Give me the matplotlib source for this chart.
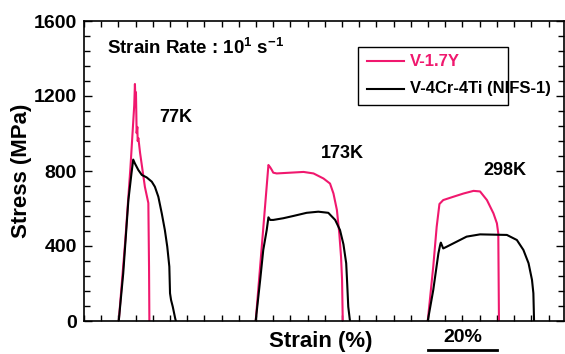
import matplotlib
matplotlib.use("Agg")
import matplotlib.pyplot as plt
import numpy as np

plt.rcParams['font.family'] = ['Liberation Sans', 'DejaVu Sans']
plt.rcParams['font.weight'] = 'bold'
plt.rcParams['mathtext.fontset'] = 'custom'
plt.rcParams['mathtext.rm'] = 'Liberation Sans:bold'
plt.rcParams['mathtext.bf'] = 'Liberation Sans:bold'

PINK = '#f0186e'

# Strain position along axis (%), stress (MPa)
v17y_77_x = [10.1, 12.0, 13.5, 14.3, 14.6, 14.8, 15.0, 15.1, 15.3, 15.5, 15.6, 15.8, 16.3, 17.7, 18.7, 18.9, 19.0]
v17y_77_y = [0, 430, 820, 1060, 1150, 1264, 1150, 1220, 1002, 1035, 960, 976, 896, 715, 629, 288, 0]
nifs_77_x = [10.1, 11.4, 12.9, 13.8, 14.3, 14.8, 15.8, 16.8, 18.2, 19.7, 20.6, 21.6, 22.6, 23.5, 24.2, 24.8, 25.0, 25.3, 25.8, 26.5, 26.7]
nifs_77_y = [0, 254, 645, 788, 861, 840, 805, 779, 766, 743, 716, 663, 574, 485, 396, 290, 148, 112, 76, 14, 0]

v17y_173_x = [49.9, 53.6, 54.1, 54.6, 55.0, 56.0, 59.9, 63.8, 66.7, 69.6, 71.5, 72.5, 73.5, 74.2, 74.7, 75.0, 75.2]
v17y_173_y = [0, 832, 820, 805, 791, 787, 791, 795, 787, 760, 733, 680, 592, 467, 343, 219, 0]
nifs_173_x = [49.9, 51.2, 52.1, 53.1, 53.6, 54.1, 55.0, 57.9, 60.8, 64.7, 68.1, 71.0, 73.0, 74.4, 75.4, 76.2, 76.5, 76.8, 77.3]
nifs_173_y = [0, 219, 379, 485, 553, 539, 539, 548, 560, 577, 583, 577, 539, 485, 409, 308, 196, 76, 0]

v17y_298_x = [99.9, 101.5, 102.5, 103.3, 104.4, 107.4, 110.3, 113.2, 115.1, 117.1, 119.0, 120.0, 120.4, 120.6]
v17y_298_y = [0, 290, 503, 624, 645, 663, 680, 694, 691, 645, 574, 521, 467, 0]
nifs_298_x = [99.9, 101.5, 103.0, 103.5, 103.7, 104.4, 105.4, 108.3, 111.2, 115.1, 122.9, 125.8, 127.7, 129.2, 130.2, 130.6, 130.8]
nifs_298_y = [0, 165, 361, 405, 418, 387, 396, 423, 450, 462, 459, 432, 379, 308, 219, 148, 0]

temps = ['77K', '173K', '298K']
temp_label_pos = [(26.7, 1083), (75.1, 896), (122.4, 805)]
yticks = [0, 400, 800, 1200, 1600]

fig = plt.figure(figsize=(5.65, 3.54), dpi=100)
ax = fig.add_axes([84/565, 33/354, 480/565, 300/354])

for xs, ys in [(v17y_77_x, v17y_77_y), (v17y_173_x, v17y_173_y), (v17y_298_x, v17y_298_y)]:
    ax.plot(xs, ys, color=PINK, lw=1.5)
for xs, ys in [(nifs_77_x, nifs_77_y), (nifs_173_x, nifs_173_y), (nifs_298_x, nifs_298_y)]:
    ax.plot(xs, ys, color='black', lw=1.5)

ax.set_xlim(0, 139.5)
ax.set_ylim(0, 1600)
ax.set_yticks(yticks)
ax.set_yticklabels([str(t) for t in yticks], fontsize=14, fontweight='bold')
ax.set_yticks(np.arange(0, 1601, 80), minor=True)
ax.set_xticks(np.arange(0, 140, 5))
ax.set_xticklabels([])
ax.tick_params(axis='both', which='both', direction='in', top=True, right=True)
ax.tick_params(axis='y', which='major', length=6, width=1, pad=5)
ax.tick_params(axis='y', which='minor', length=4, width=1)
ax.tick_params(axis='x', which='major', length=4, width=1)
for s in ax.spines.values():
    s.set_linewidth(1.2)

fig.text(22/565, 1 - 171/354, 'Stress (MPa)', fontsize=16, fontweight='bold',
         rotation=90, ha='center', va='center')

for t, (tx, ty) in zip(temps, temp_label_pos):
    ax.text(tx, ty, t, fontsize=13, fontweight='bold', ha='center', va='center')

ax.text(23/480, 1460/1600, 'Strain Rate : 10$^{\\mathbf{1}}$ s$^{\\mathbf{-1}}$', transform=ax.transAxes,
        fontsize=13.5, fontweight='bold', ha='left', va='center')

# legend box drawn manually
def px2ax(px, py):
    return ((px - 84) / 480, (321 - py) / 300)

x0, y0 = px2ax(358, 105)
x1, y1 = px2ax(508, 47)
ax.add_patch(plt.Rectangle((x0, y0), x1 - x0, y1 - y0, transform=ax.transAxes,
                           fill=False, edgecolor='black', lw=1.0))
lx0, ly0 = px2ax(367, 61)
lx1, _ = px2ax(404, 61)
ax.plot([lx0, lx1], [ly0, ly0], color=PINK, lw=1.5, transform=ax.transAxes)
tx, _ = px2ax(410, 61)
ax.text(tx, ly0, 'V-1.7Y', color=PINK, fontsize=12, fontweight='bold', va='center', ha='left',
        transform=ax.transAxes)
_, ly1 = px2ax(367, 89)
ax.plot([lx0, lx1], [ly1, ly1], color='black', lw=1.5, transform=ax.transAxes)
ax.text(tx, ly1, 'V-4Cr-4Ti (NIFS-1)', color='black', fontsize=12, fontweight='bold', va='center',
        ha='left', transform=ax.transAxes, clip_on=False)

fig.text(321/565, 1 - 342/354, 'Strain (%)', fontsize=16, fontweight='bold', ha='center', va='center')
fig.text(463/565, 1 - 337/354, '20%', fontsize=14, fontweight='bold', ha='center', va='center')
fig.add_artist(plt.Line2D([428/565, 497/565], [1 - 350/354, 1 - 350/354], color='black', lw=2.0))

fig.savefig('out.png', dpi=100)
